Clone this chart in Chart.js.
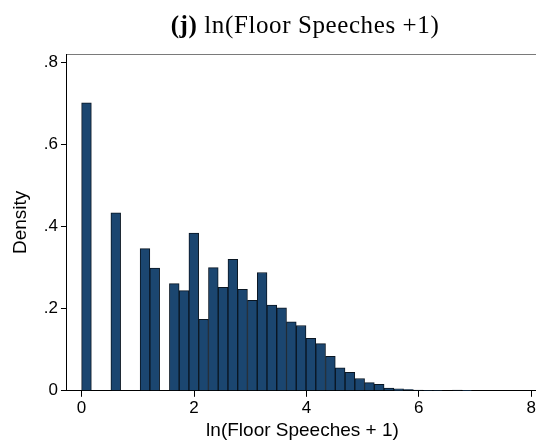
<!DOCTYPE html>
<html>
<head>
<meta charset="utf-8">
<script src="https://cdn.jsdelivr.net/npm/chart.js@4/dist/chart.umd.min.js"></script>
<style>
  html, body { margin:0; padding:0; background:#fff; overflow:hidden; }
  #wrap { position:relative; width:540px; height:448px; }
  #title {
    position:absolute; left:0; width:610px; top:11px; text-align:center;
    font-family:"Liberation Serif", serif; font-size:25px; letter-spacing:0.6px;
    color:#000; white-space:nowrap;
  }
  canvas { position:absolute; left:0; top:0; }
</style>
</head>
<body>
<div id="wrap">
  <canvas id="chart" width="540" height="448"></canvas>
  <div id="title"><b>(j)</b> ln(Floor Speeches +1)</div>
</div>
<script>
// bin centres of the histogram (ln scale)
const binCenters = [0.087, 0.260, 0.434, 0.608, 0.781, 0.955, 1.128, 1.302, 1.476, 1.649,
  1.823, 1.996, 2.170, 2.344, 2.517, 2.691, 2.864, 3.038, 3.212, 3.385,
  3.559, 3.732, 3.906, 4.080, 4.253, 4.427, 4.600, 4.774, 4.948, 5.121,
  5.295, 5.468, 5.642, 5.816, 5.989, 6.163, 6.336, 6.510, 6.684, 6.857];
// density per bin
const density = [0.701, 0, 0, 0.433, 0, 0, 0.346, 0.299, 0, 0.261,
  0.244, 0.384, 0.174, 0.300, 0.252, 0.320, 0.247, 0.220, 0.288, 0.209,
  0.202, 0.168, 0.159, 0.128, 0.115, 0.084, 0.056, 0.045, 0.030, 0.020,
  0.0155, 0.0066, 0.005, 0.003, 0.0015, 0.001, 0.001, 0, 0.0015, 0.0005];
const xTicks = [0, 2, 4, 6, 8];
const yTicks = [0, 0.2, 0.4, 0.6, 0.8];

const sans = "'Liberation Sans', Arial, sans-serif";

// grey frame line along the top of the plot region
const topFrame = {
  id: "topFrame",
  afterDraw(chart){
    const {ctx, chartArea:a} = chart;
    ctx.save();
    ctx.strokeStyle = "#7a7a7a"; ctx.lineWidth = 1;
    ctx.beginPath(); ctx.moveTo(a.left, a.top + 0.5); ctx.lineTo(a.right, a.top + 0.5); ctx.stroke();
    ctx.restore();
  }
};

new Chart(document.getElementById("chart"), {
  type: "bar",
  data: {
    datasets: [{
      data: binCenters.map((x, i) => ({ x, y: density[i] })),
      backgroundColor: "#1b4670",
      borderColor: "#0a1622",
      borderWidth: 1,
      barPercentage: 1,
      categoryPercentage: 1
    }]
  },
  options: {
    responsive: false,
    animation: false,
    layout: { padding: { top: 54, left: 9, right: 2, bottom: 6 } },
    plugins: { legend: { display:false }, tooltip: { enabled:false } },
    scales: {
      x: {
        type: "linear", min: -0.26, max: 8.12, offset: false,
        afterBuildTicks: s => { s.ticks = xTicks.map(v => ({ value: v })); },
        ticks: { color:"#000", font:{ family:sans, size:17 }, padding:1, maxRotation:0 },
        grid: { offset:false, drawOnChartArea:false, drawTicks:true, tickLength:6, color:"#000" },
        border: { color:"#000", width:1 },
        title: { display:true, text:"ln(Floor Speeches + 1)", color:"#000",
                 font:{ family:sans, size:19 }, padding:{ top:0, bottom:0 } }
      },
      y: {
        min: 0, max: 0.82,
        afterBuildTicks: s => { s.ticks = yTicks.map(v => ({ value: v })); },
        ticks: { color:"#000", font:{ family:sans, size:17 }, padding:3,
                 callback: v => v === 0 ? "0" : String(Number(v.toFixed(1))).replace(/^0/, "") },
        grid: { drawOnChartArea:false, drawTicks:true, tickLength:6, color:"#000" },
        border: { color:"#000", width:1 },
        title: { display:true, text:"Density", color:"#000",
                 font:{ family:sans, size:19 }, padding:{ top:0, bottom:9 } }
      }
    }
  },
  plugins: [topFrame]
});
</script>
</body>
</html>
